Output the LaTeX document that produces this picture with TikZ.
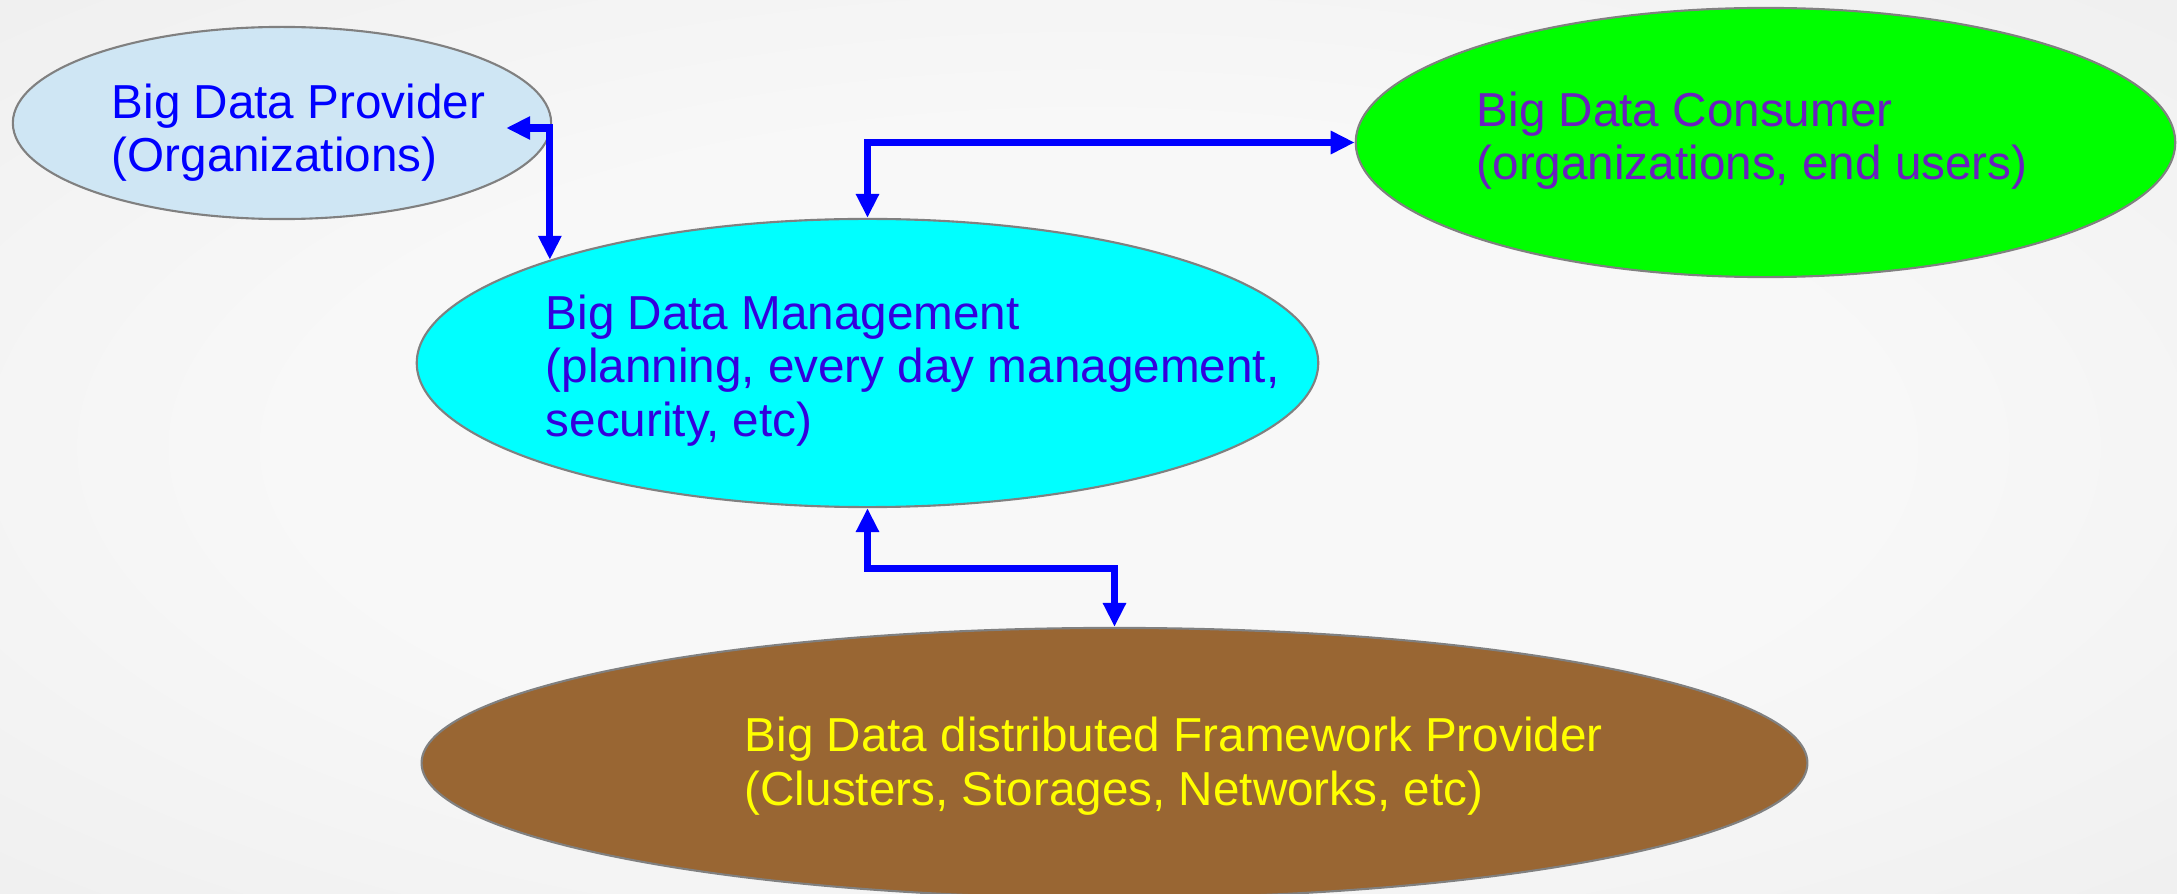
\documentclass[tikz,border=0pt]{standalone}
\usepackage{fontspec}
\setmainfont{Liberation Sans}
\usetikzlibrary{shapes.geometric,arrows.meta}
\definecolor{bgin}{HTML}{F8F8F8}
\definecolor{bgout}{HTML}{E3E3E3}
\definecolor{provfill}{HTML}{CFE6F4}
\definecolor{mgmtfill}{HTML}{00FFFF}
\definecolor{consfill}{HTML}{00FF00}
\definecolor{fwfill}{HTML}{996633}
\definecolor{provtext}{HTML}{0000FF}
\definecolor{mgmttext}{HTML}{3300DD}
\definecolor{constext}{HTML}{6A1FBF}
\definecolor{fwtext}{HTML}{FFFF00}
\definecolor{edgegray}{HTML}{808080}
\definecolor{connblue}{HTML}{0000FF}
\pgfdeclareradialshading{bgshade}{\pgfpoint{0bp}{0bp}}{color(0bp)=(bgin); color(18bp)=(bgin); color(62bp)=(bgout)}
\tikzset{
  bubble/.style={ellipse, draw=edgegray, line width=0.6pt, inner sep=0pt},
  lbl/.style={font=\fontsize{13.55pt}{15.1pt}\selectfont, align=left, inner sep=0pt, anchor=base west},
  conn/.style={draw=connblue, line width=2pt, line join=miter,
    arrows={Triangle[length=2.4mm,width=2.2mm]-Triangle[length=2.4mm,width=2.2mm]}}
}
\begin{document}
\begin{tikzpicture}[x=0.01cm, y=-0.01cm]
\useasboundingbox (0,0) rectangle (2177,894);
\shade[shading=bgshade] (0,0) rectangle (2177,894);

\node[bubble, fill=provfill, minimum width=5.38cm, minimum height=1.92cm] (prov) at (282,123) {};
\node[bubble, fill=mgmtfill, minimum width=9.01cm, minimum height=2.88cm] (mgmt) at (867.5,363) {};
\node[bubble, fill=consfill, minimum width=8.19cm, minimum height=2.69cm] (cons) at (1765.5,142.5) {};
\node[bubble, fill=fwfill, minimum width=13.85cm, minimum height=2.70cm] (fw) at (1114.5,763) {};

% anchor = baseline of the last line
\node[lbl, text=provtext] (provtxt) at (111,172) {Big Data Provider\\(Organizations)};
\node[lbl, text=mgmttext] (mgmttxt) at (545,436) {Big Data Management\\(planning, every day management,\\security, etc)};
\node[lbl, text=constext] (constxt) at (1476,180) {Big Data Consumer\\(organizations, end users)};
\node[lbl, text=fwtext] (fwtxt) at (744,805) {Big Data distributed Framework Provider\\(Clusters, Storages, Networks, etc)};

\draw[conn] ([xshift=-0.46cm,yshift=-0.05cm]prov.east) -| (mgmt.162.4);
\draw[conn] (mgmt.north) |- (cons.west);
\draw[conn] (mgmt.south) -- ++(0,60) -| (fw.north);
\end{tikzpicture}
\end{document}
